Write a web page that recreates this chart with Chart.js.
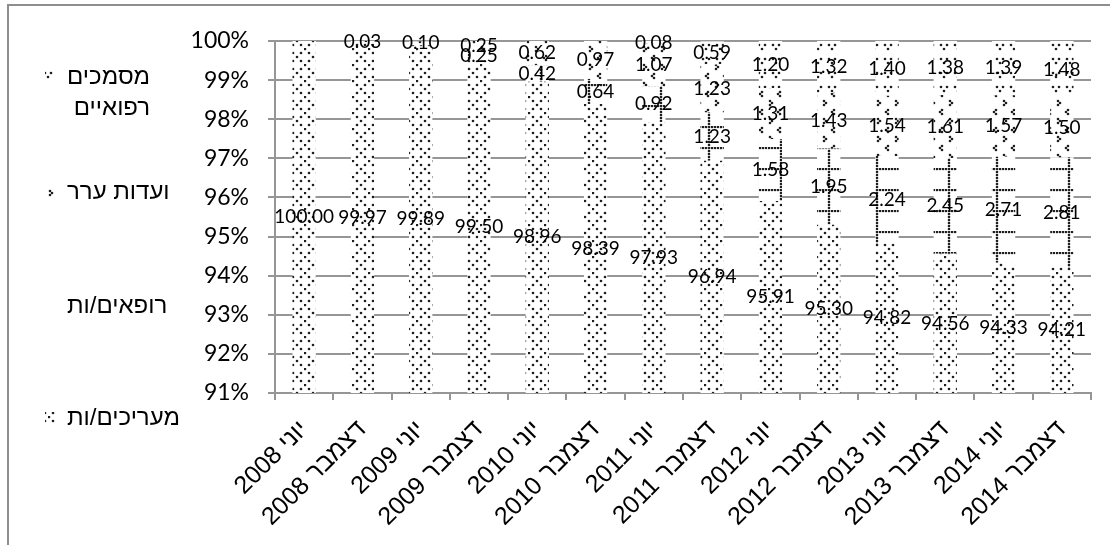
<!doctype html>
<html lang="he">
<head>
<meta charset="UTF-8" />
<title>התפלגות לפי גורם</title>
<script src="https://cdn.jsdelivr.net/npm/chart.js"></script>
<style>
    html, body { margin: 0; padding: 0; background: #fff; }
    .wrap { position: relative; width: 1110px; height: 545px; }
    .frame {
        position: absolute; left: 7px; top: 4px; right: 0; bottom: 0;
        border-top: 2px solid #8e8e8e; border-left: 2px solid #8e8e8e;
        pointer-events: none;
    }
    canvas { position: absolute; left: 0; top: 0; }
</style>
</head>
<body>
<div class="wrap">
    <canvas id="chart" width="1110" height="545"></canvas>
    <div class="frame"></div>
</div>
<script>
    const periods = ['יוני 2008', 'דצמבר 2008', 'יוני 2009', 'דצמבר 2009', 'יוני 2010', 'דצמבר 2010', 'יוני 2011',
        'דצמבר 2011', 'יוני 2012', 'דצמבר 2012', 'יוני 2013', 'דצמבר 2013', 'יוני 2014', 'דצמבר 2014'];

    const assessors = [100.00, 99.97, 99.89, 99.50, 98.96, 98.39, 97.93, 96.94, 95.91, 95.30, 94.82, 94.56, 94.33, 94.21];
    const doctors = [0, 0, 0, 0.25, 0.42, 0.64, 0.92, 1.23, 1.58, 1.95, 2.24, 2.45, 2.71, 2.81];
    const appeals = [0, 0.03, 0.10, 0.25, 0.62, 0.97, 1.07, 1.23, 1.31, 1.43, 1.54, 1.61, 1.57, 1.50];
    const documents = [0, 0, 0, 0, 0, 0, 0.08, 0.59, 1.20, 1.32, 1.40, 1.38, 1.39, 1.48];

    const seriesNames = ['מעריכים/ות', 'רופאים/ות', 'ועדות ערר', 'מסמכים רפואיים'];
    const yMin = 91, yMax = 100, yStep = 1;

    const NUM_FONT = 'Lato, "Open Sans", sans-serif';
    const HEB_FONT = '"Liberation Sans", Arial, sans-serif';

    const ctx = document.getElementById('chart');

    // small tiles of dots used as bar fills
    function dotPattern(w, h, dots) {
        const c = document.createElement('canvas');
        c.width = w; c.height = h;
        const g = c.getContext('2d');
        g.fillStyle = '#fff';
        g.fillRect(0, 0, w, h);
        g.fillStyle = '#1e1e1e';
        dots.forEach(d => {
            g.beginPath();
            g.arc(d[0] + 1, d[1] + 1, 1.3, 0, Math.PI * 2);
            g.fill();
        });
        return ctx.getContext('2d').createPattern(c, 'repeat');
    }

    // dotted diamond: dots on both diagonals of a 16px cell
    const diamondDots = [[0, 0], [4, 4], [8, 8], [12, 12], [4, 12], [12, 4]];

    const gridDots = [];
    for (let x = 0; x < 24; x += 3) gridDots.push([x, 0]);
    for (let y = 3; y < 21; y += 3) gridDots.push([12, y]);

    const fills = [
        dotPattern(16, 16, diamondDots),
        dotPattern(24, 21, gridDots),
        dotPattern(18, 18, [[5, 1], [3, 3], [5, 5], [13, 10], [15, 12], [13, 14]]),
        dotPattern(14, 14, [[2, 2], [8, 2], [5, 6]])
    ];

    // value labels in the middle of the visible part of each segment
    const segmentLabels = {
        id: 'segmentLabels',
        afterDatasetsDraw(chart) {
            const c = chart.ctx;
            const area = chart.chartArea;
            c.save();
            c.font = '19px ' + NUM_FONT;
            c.fillStyle = '#000';
            c.textAlign = 'center';
            c.textBaseline = 'middle';
            chart.data.datasets.forEach((ds, i) => {
                const meta = chart.getDatasetMeta(i);
                meta.data.forEach((bar, j) => {
                    const v = ds.data[j];
                    if (!v) return;
                    const top = Math.max(Math.min(bar.y, bar.base), area.top);
                    const bottom = Math.min(Math.max(bar.y, bar.base), area.bottom);
                    c.fillText(v.toFixed(2), bar.x, (top + bottom) / 2);
                });
            });
            c.restore();
        }
    };

    // legend on the left, top series first
    const legendSpots = [
        { ds: 3, lines: ['מסמכים', 'רפואיים'], y: 77 },
        { ds: 2, lines: ['ועדות ערר'], y: 192 },
        { ds: 1, lines: ['רופאים/ות'], y: 306 },
        { ds: 0, lines: ['מעריכים/ות'], y: 418 }
    ];
    const sideLegend = {
        id: 'sideLegend',
        afterDraw(chart) {
            const c = chart.ctx;
            c.save();
            c.font = '24px ' + HEB_FONT;
            c.textBaseline = 'middle';
            legendSpots.forEach(item => {
                c.fillStyle = fills[item.ds];
                c.fillRect(45, item.y - 6, 12, 11);
                c.fillStyle = '#000';
                const right = 67 + c.measureText(item.lines[0]).width;
                c.textAlign = 'right';
                item.lines.forEach((t, k) => c.fillText(t, right, item.y + k * 31));
            });
            c.restore();
        }
    };

    const gridColor = '#969696';

    new Chart(ctx, {
        type: 'bar',
        data: {
            labels: periods,
            datasets: [assessors, doctors, appeals, documents].map((vals, i) => ({
                label: seriesNames[i],
                data: vals,
                backgroundColor: fills[i],
                borderWidth: 0,
                barPercentage: 0.4,
                categoryPercentage: 1
            }))
        },
        options: {
            responsive: false,
            animation: false,
            events: [],
            layout: { padding: { left: 175, top: 41, right: 19, bottom: 0 } },
            plugins: {
                legend: { display: false },
                tooltip: { enabled: false }
            },
            scales: {
                x: {
                    stacked: true,
                    afterFit(scale) { scale.height = 152; },
                    border: { color: gridColor, width: 2 },
                    grid: { offset: true, drawOnChartArea: false, tickLength: 7, color: gridColor, lineWidth: 2 },
                    ticks: {
                        autoSkip: false,
                        minRotation: 45,
                        maxRotation: 45,
                        padding: 15,
                        color: '#000',
                        font: { family: HEB_FONT, size: 25 }
                    }
                },
                y: {
                    stacked: true,
                    min: yMin,
                    max: yMax,
                    afterFit(scale) { scale.width = 275 - 175; },
                    border: { color: gridColor, width: 2 },
                    grid: { tickLength: 7, color: gridColor, lineWidth: 2 },
                    ticks: {
                        stepSize: yStep,
                        padding: 19,
                        color: '#000',
                        font: { family: NUM_FONT, size: 23 },
                        callback: v => v + '%'
                    }
                }
            }
        },
        plugins: [segmentLabels, sideLegend]
    });
</script>
</body>
</html>
